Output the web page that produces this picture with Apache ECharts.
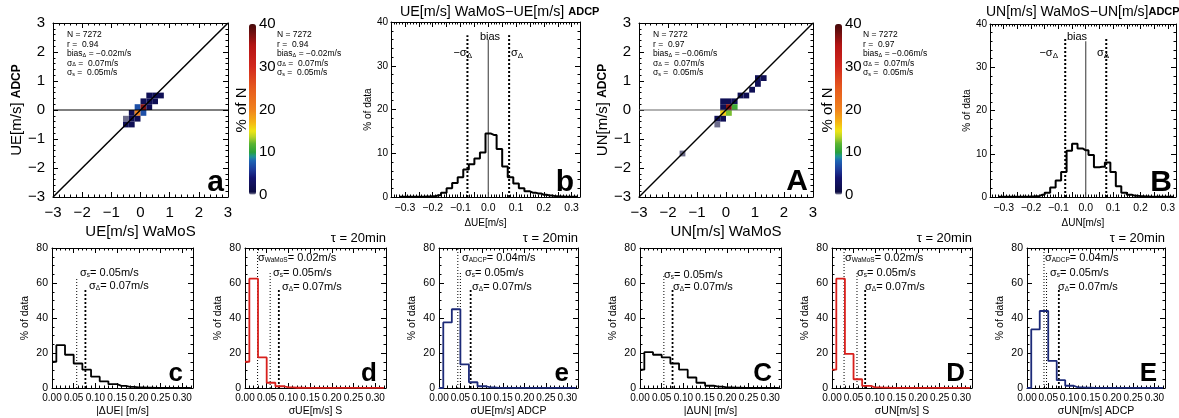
<!DOCTYPE html>
<html><head><meta charset="utf-8">
<script src="https://cdn.jsdelivr.net/npm/echarts@6/dist/echarts.min.js"></script>
<style>html,body{margin:0;padding:0;background:#fff}#c{width:1179px;height:418px}</style>
</head><body><div id="c"></div>
<script>
// ================= DATA =================
// 2-D histogram cells: [WaMoS value (bin centre), ADCP value (bin centre), % of N]
const ueCells = [
  [0.3,0.5,2],[0.5,0.5,2],[0.7,0.5,2],
  [0.1,0.3,2],[0.3,0.3,2],[0.5,0.3,2],
  [-0.1,0.1,7],[0.1,0.1,37],[0.3,0.1,2],
  [-0.3,-0.1,2],[-0.1,-0.1,20],[0.1,-0.1,7],
  [-0.5,-0.3,0.3],[-0.3,-0.3,2],[-0.1,-0.3,2],
  [-0.5,-0.5,2],[-0.3,-0.5,2]
];
const unCells = [
  [1.1,1.1,2],[1.3,1.1,2],[1.1,0.9,2],[0.9,0.7,2],
  [0.5,0.5,2],[0.7,0.5,2],
  [-0.1,0.3,2],[0.1,0.3,2],[0.3,0.3,2],
  [-0.1,0.1,2],[0.1,0.1,37],[0.3,0.1,11],
  [-0.1,-0.1,16],[0.1,-0.1,12.5],
  [-0.3,-0.3,2],[-0.1,-0.3,2],
  [-0.3,-0.5,0.3],[-1.5,-1.5,0.3]
];
const cellSize = 0.2;
const oneToOne = [[-3,-3],[3,3]];
const zeroLine = [[-3,0],[3,0]];

// difference histograms (WaMoS - ADCP), bin centres in m/s, % of data
const diffCenters = [-0.32,-0.30,-0.28,-0.26,-0.24,-0.22,-0.20,-0.18,-0.16,-0.14,-0.12,-0.10,-0.08,-0.06,-0.04,-0.02,0.00,
  0.02,0.04,0.06,0.08,0.10,0.12,0.14,0.16,0.18,0.20,0.22,0.24,0.26,0.28,0.30,0.32];
const diffUE = [0.05,0.05,0.05,0.05,0.05,0.1,0.15,0.4,1.0,2.0,3.2,4.5,6.3,7.5,8.8,10.2,14.5,
  14.2,11.0,7.0,4.5,3.1,2.0,1.3,1.0,0.8,0.5,0.35,0.2,0.1,0.05,0.05,0.05];
const diffUN = [0.03,0.03,0.03,0.03,0.03,0.05,0.1,0.2,0.5,1.0,2.2,3.8,5.8,10.7,12.3,11.2,10.8,
  9.7,6.9,7.0,8.0,5.8,2.5,1.0,0.5,0.3,0.2,0.1,0.05,0.03,0.03,0.03,0.03];
const biasUE = 0.0, sigDeltaUE = 0.075;
const biasUN = 0.0, sigDeltaUN = 0.075;

// error histograms, bin centres in m/s
const errCenters = [0.00,0.02,0.04,0.06,0.08,0.10,0.12,0.14,0.16,0.18,0.20,0.22,0.24,0.26,0.28,0.30,0.32];
const absDiffUE = [15,24.5,19,14,10.5,6.5,3.8,2.2,1.2,0.6,0.3,0.15,0.1,0.05,0.05,0.02,0.02];
const sigUE_S   = [15,62.5,17.5,3,1,0.4,0.15,0.1,0.05,0.05,0.02,0.02,0.02,0.02,0.02,0.02,0.02];
const sigUE_ADCP= [0,37.5,45,13.5,3.3,1,0.3,0.1,0.05,0.02,0.02,0.02,0.02,0.02,0.02,0.02,0.02];
const absDiffUN = [10.5,20.5,19,17.5,14,10.5,6,3,1.3,0.8,0.4,0.2,0.1,0.05,0.02,0.02,0.02];
const sigUN_S   = [10.5,62.5,19.5,5,1.2,0.4,0.2,0.1,0.05,0.05,0.02,0.02,0.02,0.02,0.02,0.02,0.02];
const sigUN_ADCP= [0,33.5,44,15.5,4.5,1.3,0.4,0.2,0.05,0.02,0.02,0.02,0.02,0.02,0.02,0.02,0.02];

// reference lines in the error panels: [x position (m/s), top (% of data)]
const linesC = [[0.057,63],[0.077,56]];
const linesD = [[0.029,80],[0.058,66],[0.078,57]];
const linesE = [[0.044,80],[0.050,66],[0.074,57]];
const linesC2 = [[0.055,64],[0.075,57]];
const linesD2 = [[0.028,80],[0.058,66],[0.077,57]];
const linesE2 = [[0.040,80],[0.046,66],[0.075,56]];

// ================= STYLE / BUILD =================
const FONT = 'Liberation Sans, Arial, Helvetica, sans-serif';
const RED = '#d8201c', NAVY = '#1c2a78';

const cmapStops = [[0,'#ffffff'],[0.5,'#0c0c40'],[4,'#141470'],[6,'#1e3c9b'],[8,'#1e64b4'],[9,'#1e9696'],
  [10,'#28a03c'],[12,'#5ab432'],[13.5,'#b4d228'],[15,'#f0e614'],[17,'#f5b414'],[20,'#f0821e'],
  [25,'#e65a1e'],[30,'#d2281e'],[35,'#b41414'],[38,'#6e0f0f'],[40,'#460a0a']];
function hex(c){return [parseInt(c.slice(1,3),16),parseInt(c.slice(3,5),16),parseInt(c.slice(5,7),16)];}
function cmapAt(v){
  for(let i=1;i<cmapStops.length;i++){
    if(v<=cmapStops[i][0]){
      const [v0,c0]=cmapStops[i-1],[v1,c1]=cmapStops[i];
      const t=(v-v0)/(v1-v0), a=hex(c0), b=hex(c1);
      return 'rgb('+a.map((x,k)=>Math.round(x+(b[k]-x)*t)).join(',')+')';
    }
  }
  return cmapStops[cmapStops.length-1][1];
}
const cmap=[]; for(let i=0;i<=80;i++) cmap.push(cmapAt(i*0.5));

const minus = s => String(s).replace('-','\u2212');

const gridsDef = {
  a:{left:53,top:23,width:175,height:174},
  b:{left:391,top:22,width:189,height:175},
  A:{left:639,top:23,width:174,height:174},
  B:{left:990,top:24,width:186,height:173},
  c:{left:52,top:248,width:141,height:140},
  d:{left:245,top:248,width:141,height:140},
  e:{left:439,top:248,width:139,height:140},
  C:{left:640,top:248,width:141,height:140},
  D:{left:832,top:248,width:140,height:140},
  E:{left:1027,top:248,width:138,height:140},
  cb1:{left:249,top:24,width:7,height:171},
  cb2:{left:835,top:24,width:7,height:171}
};
const gridKeys = Object.keys(gridsDef);
const grid = gridKeys.map(k=>Object.assign({containLabel:false},gridsDef[k]));
const gi = k => gridKeys.indexOf(k);

const xAxis=[], yAxis=[], series=[];
const axLine = {show:true,onZero:false,lineStyle:{color:'#000',width:1}};
function tickSet(split){
  return {axisTick:{inside:true,length:5,lineStyle:{color:'#000'}},
          minorTick:{show:true,splitNumber:split,length:2.5,lineStyle:{color:'#000'}}};
}
function frame(k, xo, yo, xsplit, ysplit){
  const g=gi(k);
  const xi=xAxis.length;
  xAxis.push(Object.assign({type:'value',gridIndex:g,position:'bottom',axisLine:axLine,splitLine:{show:false}},tickSet(xsplit),xo));
  xAxis.push(Object.assign({type:'value',gridIndex:g,position:'top',axisLine:axLine,splitLine:{show:false},
    axisLabel:{show:false},min:xo.min,max:xo.max,interval:xo.interval},tickSet(xsplit)));
  const yi=yAxis.length;
  yAxis.push(Object.assign({type:'value',gridIndex:g,position:'left',axisLine:axLine,splitLine:{show:false}},tickSet(ysplit),yo));
  yAxis.push(Object.assign({type:'value',gridIndex:g,position:'right',axisLine:axLine,splitLine:{show:false},
    axisLabel:{show:false},min:yo.min,max:yo.max,interval:yo.interval},tickSet(ysplit)));
  return {xi,yi};
}

// ---- scatter-density panels ----
function densityPanel(k, cells, xname, yname, zeroColor){
  const ax = frame(k,
    {min:-3,max:3,interval:1,axisLabel:{fontSize:15,color:'#000',fontFamily:FONT,margin:8,formatter:v=>minus(v)},
     name:xname,nameLocation:'middle',nameGap:27,nameTextStyle:{fontSize:15,color:'#000',fontFamily:FONT}},
    {min:-3,max:3,interval:1,axisLabel:{fontSize:15,color:'#000',fontFamily:FONT,margin:8,formatter:v=>minus(v)},
     name:yname,nameLocation:'middle',nameGap:24,
     nameTextStyle:{fontSize:15,color:'#000',fontFamily:FONT,rich:{b:{fontSize:12,fontWeight:'bold',fontFamily:FONT,color:'#000'}}}},
    5,5);
  const si = series.length;
  series.push({type:'custom',xAxisIndex:ax.xi,yAxisIndex:ax.yi,data:cells,
    encode:{x:0,y:1},
    renderItem:function(params,api){
      const x=api.value(0), y=api.value(1);
      const p0=api.coord([x-cellSize/2,y+cellSize/2]);
      const p1=api.coord([x+cellSize/2,y-cellSize/2]);
      return {type:'rect',shape:{x:p0[0],y:p0[1],width:p1[0]-p0[0],height:p1[1]-p0[1]},
        style:{fill:api.visual('color'),stroke:null}};
    },z:2});
  series.push({type:'line',xAxisIndex:ax.xi,yAxisIndex:ax.yi,data:zeroLine,symbol:'none',
    lineStyle:{color:zeroColor,width:1.2},z:3,silent:true});
  series.push({type:'line',xAxisIndex:ax.xi,yAxisIndex:ax.yi,data:oneToOne,symbol:'none',
    lineStyle:{color:'#000',width:1.5},z:4,silent:true});
  return si;
}
const sA = densityPanel('a', ueCells, 'UE[m/s] WaMoS', 'UE[m/s] {b|ADCP}', '#000');
const sB = densityPanel('A', unCells, 'UN[m/s] WaMoS', 'UN[m/s] {b|ADCP}', '#666');

// ---- colour bars' axes ----
function cbAxis(k){
  const g=gi(k);
  xAxis.push({type:'value',gridIndex:g,min:0,max:1,show:false});
  yAxis.push({type:'value',gridIndex:g,position:'right',min:0,max:40,interval:10,
    axisLine:{show:false},axisTick:{show:false},splitLine:{show:false},
    axisLabel:{fontSize:15,color:'#000',fontFamily:FONT,margin:3,verticalAlign:'middle'}});
}
cbAxis('cb1'); cbAxis('cb2');

// ---- difference histograms ----
function diffPanel(k, vals, xname, bias, sig){
  const ax = frame(k,
    {min:-0.35,max:0.33,interval:0.05,
     axisLabel:{fontSize:10.5,color:'#000',fontFamily:FONT,margin:6,showMaxLabel:false,
       formatter:v=>{const r=Math.round(v*10); return Math.abs(v*10-r)<1e-6?minus((r/10).toFixed(1)):'';}},
     name:xname,nameLocation:'middle',nameGap:21,nameTextStyle:{fontSize:10,color:'#000',fontFamily:FONT}},
    {min:0,max:40,interval:10,
     axisLabel:{fontSize:10,color:'#000',fontFamily:FONT,margin:3},
     name:'% of data',nameLocation:'middle',nameGap:15,nameTextStyle:{fontSize:10,color:'#000',fontFamily:FONT}},
    5,5);
  series.push({type:'line',xAxisIndex:ax.xi,yAxisIndex:ax.yi,step:'middle',symbol:'none',
    data:diffCenters.map((c,i)=>[c,vals[i]]),lineStyle:{color:'#000',width:2},z:4});
  series.push({type:'line',xAxisIndex:ax.xi,yAxisIndex:ax.yi,symbol:'none',
    data:[[bias,0],[bias,36]],lineStyle:{color:'#555',width:1.2},z:3});
  [-sig,sig].forEach(s=>series.push({type:'line',xAxisIndex:ax.xi,yAxisIndex:ax.yi,symbol:'none',
    data:[[s,0],[s,37]],lineStyle:{color:'#000',width:2,type:[2,2]},z:3}));
}
diffPanel('b', diffUE, '\u0394UE[m/s]', biasUE, sigDeltaUE);
diffPanel('B', diffUN, '\u0394UN[m/s]', biasUN, sigDeltaUN);

// ---- error histograms ----
function errPanel(k, vals, color, xname, lines){
  const ax = frame(k,
    {min:0,max:0.325,interval:0.05,
     axisLabel:{fontSize:10,color:'#000',fontFamily:FONT,margin:5,showMaxLabel:false,
       formatter:v=>{const r=Math.round(v*20); return Math.abs(v*20-r)<1e-6?(r/20).toFixed(2):'';}},
     name:xname,nameLocation:'middle',nameGap:18,nameTextStyle:{fontSize:10.5,color:'#000',fontFamily:FONT}},
    {min:0,max:80,interval:20,
     axisLabel:{fontSize:10.5,color:'#000',fontFamily:FONT,margin:4},
     name:'% of data',nameLocation:'middle',nameGap:21,nameTextStyle:{fontSize:10.5,color:'#000',fontFamily:FONT}},
    5,4);
  series.push({type:'line',xAxisIndex:ax.xi,yAxisIndex:ax.yi,step:'middle',symbol:'none',
    data:errCenters.map((c,i)=>[c,vals[i]]),lineStyle:{color:color,width:1.8},z:4});
  lines.forEach((l,i)=>{
    const thick = (i===lines.length-1);
    series.push({type:'line',xAxisIndex:ax.xi,yAxisIndex:ax.yi,symbol:'none',
      data:[[l[0],0],[l[0],l[1]]],
      lineStyle:{color:'#000',width:thick?1.8:1,type:thick?[2,2]:[1,2]},z:3});
  });
}
errPanel('c', absDiffUE, '#000', '|\u0394UE| [m/s]', linesC);
errPanel('d', sigUE_S, RED, '\u03c3UE[m/s] S', linesD);
errPanel('e', sigUE_ADCP, NAVY, '\u03c3UE[m/s] ADCP', linesE);
errPanel('C', absDiffUN, '#000', '|\u0394UN| [m/s]', linesC2);
errPanel('D', sigUN_S, RED, '\u03c3UN[m/s] S', linesD2);
errPanel('E', sigUN_ADCP, NAVY, '\u03c3UN[m/s] ADCP', linesE2);

// ---- text ----
const sub7 = {fontSize:6.5,fontFamily:FONT,color:'#000',padding:[4,0,0,0]};
const sub9 = {fontSize:8,fontFamily:FONT,color:'#000',padding:[5,0,0,0]};
function R(x,y,text,size,subStyle,align){
  return {type:'text',x:x,y:y,silent:true,z:100,
    style:{text:text,fill:'#000',fontSize:size,fontFamily:FONT,textAlign:align||'left',textVerticalAlign:'middle',
      rich:{s:subStyle,b:{fontSize:11,fontWeight:'bold',fontFamily:FONT,color:'#000'}}}};
}
const statsUE = 'N = 7272\nr =  0.94\nbias{s|\u0394} = \u22120.02m/s\n\u03c3{s|\u0394} =  0.07m/s\n\u03c3{s|s} =  0.05m/s';
const statsUN = 'N = 7272\nr =  0.97\nbias{s|\u0394} = \u22120.06m/s\n\u03c3{s|\u0394} =  0.07m/s\n\u03c3{s|s} =  0.05m/s';
function stats(x,y,t){
  return {type:'text',x:x,y:y,silent:true,z:100,
    style:{text:t,fill:'#000',fontSize:8.5,fontFamily:FONT,lineHeight:9.5,textAlign:'left',textVerticalAlign:'top',
      rich:{s:{fontSize:5.5,fontFamily:FONT,color:'#000',padding:[3,0,0,0],lineHeight:9.5}}}};
}
function bigLetter(x,y,t,size){
  return {type:'text',x:x,y:y,silent:true,z:100,
    style:{text:t,fill:'#000',fontSize:size,fontWeight:'bold',fontFamily:FONT,textAlign:'right',textVerticalAlign:'bottom'}};
}
function rot(x,y,t,size){
  return {type:'text',x:x,y:y,rotation:Math.PI/2,silent:true,z:100,
    style:{text:t,fill:'#000',fontSize:size,fontFamily:FONT,textAlign:'center',textVerticalAlign:'middle'}};
}
const graphic = [
  stats(67,30,statsUE), stats(277,30,statsUE), stats(653,30,statsUN), stats(863,30,statsUN),
  rot(242,110,'% of N',15), rot(828,110,'% of N',15),
  R(400,12,'UE[m/s] WaMoS\u2212UE[m/s] {b|ADCP}',14.3,sub9), R(986,12,'UN[m/s] WaMoS\u2212UN[m/s]{b|ADCP}',14,sub9),
  R(490,37,'bias',11,sub9,'center'), R(472,53,'\u2212\u03c3{s|\u0394}',11,sub9,'right'), R(511,53,'\u03c3{s|\u0394}',11,sub9),
  R(1077,37,'bias',11,sub9,'center'), R(1058,53,'\u2212\u03c3{s|\u0394}',11,sub9,'right'), R(1097,53,'\u03c3{s|\u0394}',11,sub9),
  R(80,273,'\u03c3{s|s}= 0.05m/s',11,sub7), R(89,286,'\u03c3{s|\u0394}= 0.07m/s',11,sub7),
  R(258,258,'\u03c3{s|WaMoS}= 0.02m/s',11,sub7), R(273,273,'\u03c3{s|s}= 0.05m/s',11,sub7), R(282,287,'\u03c3{s|\u0394}= 0.07m/s',11,sub7),
  R(462,258,'\u03c3{s|ADCP}= 0.04m/s',11,sub7), R(465,273,'\u03c3{s|s}= 0.05m/s',11,sub7), R(472,287,'\u03c3{s|\u0394}= 0.07m/s',11,sub7),
  R(664,275,'\u03c3{s|s}= 0.05m/s',11,sub7), R(673,287,'\u03c3{s|\u0394}= 0.07m/s',11,sub7),
  R(845,258,'\u03c3{s|WaMoS}= 0.02m/s',11,sub7), R(857,273,'\u03c3{s|s}= 0.05m/s',11,sub7), R(865,287,'\u03c3{s|\u0394}= 0.07m/s',11,sub7),
  R(1045,258,'\u03c3{s|ADCP}= 0.04m/s',11,sub7), R(1050,273,'\u03c3{s|s}= 0.05m/s',11,sub7), R(1058,287,'\u03c3{s|\u0394}= 0.07m/s',11,sub7),
  R(386,238,'\u03c4 = 20min',13,sub7,'right'), R(578,238,'\u03c4 = 20min',13,sub7,'right'),
  R(972,238,'\u03c4 = 20min',13,sub7,'right'), R(1165,238,'\u03c4 = 20min',13,sub7,'right'),
  bigLetter(224,198,'a',30), bigLetter(574,198,'b',30), bigLetter(808,197,'A',30), bigLetter(1172,198,'B',30),
  bigLetter(183,387,'c',26), bigLetter(377,387,'d',26), bigLetter(569,387,'e',26),
  bigLetter(772,387,'C',26), bigLetter(965,387,'D',26), bigLetter(1157,387,'E',26)
];

const visualMap = [
  {type:'continuous',min:0,max:40,dimension:2,seriesIndex:sA,left:249,top:24,itemWidth:7,itemHeight:171,
   padding:0,calculable:false,inRange:{color:cmap},text:null,showLabel:false,borderWidth:0},
  {type:'continuous',min:0,max:40,dimension:2,seriesIndex:sB,left:835,top:24,itemWidth:7,itemHeight:171,
   padding:0,calculable:false,inRange:{color:cmap},text:null,showLabel:false,borderWidth:0}
];

const chart = echarts.init(document.getElementById('c'),null,{renderer:'canvas'});
chart.setOption({animation:false,backgroundColor:'#fff',textStyle:{fontFamily:FONT},
  grid,xAxis,yAxis,series,visualMap,graphic});
</script></body></html>
